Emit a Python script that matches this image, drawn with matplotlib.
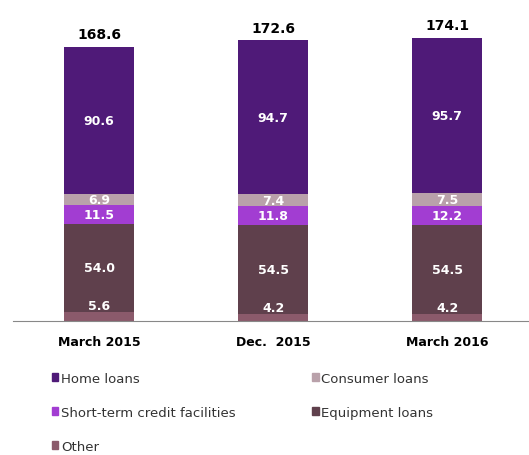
import matplotlib.pyplot as plt
from matplotlib.patches import Patch
import numpy as np

# loan portfolio breakdown per period
periods = ["March 2015", "Dec.  2015", "March 2016"]
other = [5.6, 4.2, 4.2]
equipment = [54.0, 54.5, 54.5]
short_term = [11.5, 11.8, 12.2]
consumer = [6.9, 7.4, 7.5]
home = [90.6, 94.7, 95.7]
totals = [168.6, 172.6, 174.1]

series = [
    ("Other", other, "#8b5a6b"),
    ("Equipment loans", equipment, "#5f404c"),
    ("Short-term credit facilities", short_term, "#a23dd2"),
    ("Consumer loans", consumer, "#b9a1aa"),
    ("Home loans", home, "#4f1a78"),
]

fig = plt.figure(figsize=(5.29, 4.56), dpi=100)
ax = fig.add_axes([0.025, 0.294, 0.975, 0.706])

x = np.arange(len(periods))
bottom = np.zeros(len(periods))
for name, vals, color in series:
    vals = np.array(vals)
    ax.bar(x, vals, width=0.40, bottom=bottom, color=color, label=name)
    for xi, b, v in zip(x, bottom, vals):
        if name == "Other":
            # thin bottom slice: label sits just above it
            ty = b + v + 4.2
        else:
            ty = b + v / 2
        ax.text(xi, ty, f"{v:.1f}", ha="center", va="center",
                color="white", fontsize=9, fontweight="bold")
    bottom += vals

for xi, t in zip(x, totals):
    ax.annotate(f"{t:.1f}", (xi, t), xytext=(0, 9), textcoords="offset points",
                ha="center", va="center", fontsize=10, fontweight="bold")

ax.set_xlim(-0.494, 2.471)
ax.set_ylim(0, 198)
ax.set_xticks(x)
ax.set_xticklabels(periods, fontsize=9, fontweight="bold")
ax.tick_params(axis="x", length=0, pad=10)
ax.set_yticks([])
for side in ["top", "right", "left"]:
    ax.spines[side].set_visible(False)
ax.spines["bottom"].set_color("#888888")

colors = {name: color for name, _, color in series}
order = ["Home loans", "Short-term credit facilities", "Other",
         "Consumer loans", "Equipment loans"]
handles = [Patch(color=colors[n], label=n) for n in order]
fig.legend(handles=handles, loc="upper left", bbox_to_anchor=(0.098, 0.183),
           ncol=2, frameon=False, fontsize=9.5, handlelength=0.5,
           handleheight=0.5, handletextpad=0.2, labelspacing=1.6,
           columnspacing=5.8, borderpad=0, borderaxespad=0,
           labelcolor="#333333")

plt.savefig("out.png", dpi=100)
